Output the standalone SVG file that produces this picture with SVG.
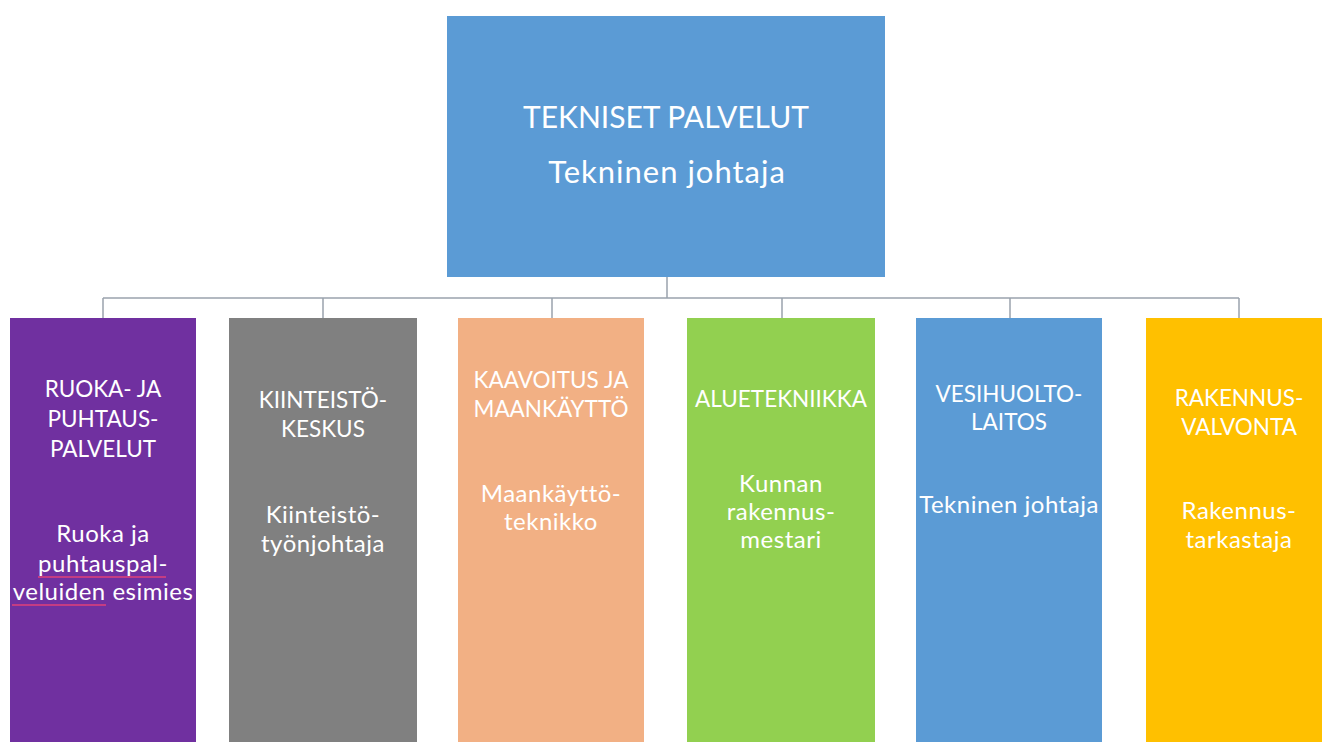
<svg xmlns="http://www.w3.org/2000/svg" width="1322" height="742" viewBox="0 0 1322 742">
<style>
.t{font-family:Lato,"Open Sans","Liberation Sans",sans-serif;fill:#ffffff;text-anchor:middle}
.s{font-size:22.5px}
.l{font-size:24px;letter-spacing:0.5px}
.b{font-size:30px}
.bl{font-size:31px;letter-spacing:1px}
.c{fill:none;stroke:#9aa3ad;stroke-width:1.5}
.sq{fill:none;stroke:#e0407a;stroke-width:1.3}
</style>
<rect width="1322" height="742" fill="#ffffff"/>
<g id="connectors">
<path class="c" d="M667 277V298M103 298H1239M103 298V318M323 298V318M552 298V318M782 298V318M1010 298V318M1239 298V318"/>
</g>
<g id="top">
<rect x="447" y="16" width="438" height="261" fill="#5B9BD5"/>
<text class="t b" x="666" y="128">TEKNISET PALVELUT</text>
<text class="t bl" x="667" y="183">Tekninen johtaja</text>
</g>
<g id="ruoka">
<rect x="10" y="318" width="186" height="424" fill="#7030A0"/>
<text class="t s" x="103" y="397">RUOKA- JA</text>
<text class="t s" x="103" y="427">PUHTAUS-</text>
<text class="t s" x="103" y="457">PALVELUT</text>
<text class="t l" x="103" y="542">Ruoka ja</text>
<text class="t l" x="103" y="572">puhtauspal-</text>
<text class="t l" x="103" y="600">veluiden esimies</text>
<path class="sq" d="M38 577H166M12 605H106"/>
</g>
<g id="kiinteisto">
<rect x="229" y="318" width="188" height="424" fill="#808080"/>
<text class="t s" x="323" y="408">KIINTEISTÖ-</text>
<text class="t s" x="323" y="437">KESKUS</text>
<text class="t l" x="323" y="523">Kiinteistö-</text>
<text class="t l" x="323" y="552">työnjohtaja</text>
</g>
<g id="kaavoitus">
<rect x="458" y="318" width="186" height="424" fill="#F2B084"/>
<text class="t s" x="551" y="388">KAAVOITUS JA</text>
<text class="t s" x="551" y="417">MAANKÄYTTÖ</text>
<text class="t l" x="551" y="502">Maankäyttö-</text>
<text class="t l" x="551" y="530">teknikko</text>
</g>
<g id="aluetekniikka">
<rect x="687" y="318" width="188" height="424" fill="#92D050"/>
<text class="t s" x="781" y="407">ALUETEKNIIKKA</text>
<text class="t l" x="781" y="492">Kunnan</text>
<text class="t l" x="781" y="520">rakennus-</text>
<text class="t l" x="781" y="548">mestari</text>
</g>
<g id="vesihuolto">
<rect x="916" y="318" width="186" height="424" fill="#5B9BD5"/>
<text class="t s" x="1009" y="402">VESIHUOLTO-</text>
<text class="t s" x="1009" y="430">LAITOS</text>
<text class="t l" x="1009" y="513">Tekninen johtaja</text>
</g>
<g id="rakennusvalvonta">
<rect x="1146" y="318" width="186" height="424" fill="#FFC000"/>
<text class="t s" x="1239" y="406">RAKENNUS-</text>
<text class="t s" x="1239" y="435">VALVONTA</text>
<text class="t l" x="1239" y="519">Rakennus-</text>
<text class="t l" x="1239" y="548">tarkastaja</text>
</g>
</svg>
